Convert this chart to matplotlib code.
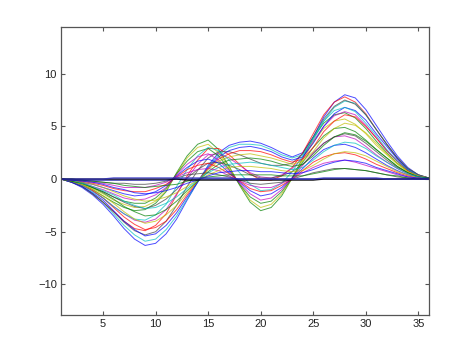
import numpy as np
import matplotlib
matplotlib.use("Agg")
import matplotlib.pyplot as plt

# sample index 1..36 on the x axis
x = np.arange(1, 37)

# curves (deep dip at 9 / hump at 18.5 family)
p1 = [0.0,-0.3,-0.8,-1.5,-2.4,-3.5,-4.7,-5.7,-6.3,-6.1,-5.2,-3.8,-2.0,-0.3,1.3,2.5,3.2,3.5,3.6,3.4,3.0,2.5,2.1,2.5,4.0,5.9,7.3,8.0,7.7,6.6,5.1,3.6,2.2,1.1,0.4,0.1]
p2 = [0.0,-0.3,-0.7,-1.4,-2.2,-3.3,-4.4,-5.3,-5.9,-5.7,-4.8,-3.5,-1.9,-0.3,1.2,2.3,3.0,3.3,3.3,3.2,2.8,2.3,2.0,2.3,3.7,5.5,6.8,7.4,7.2,6.1,4.7,3.3,2.0,1.0,0.4,0.1]
p3 = [0.0,-0.3,-0.7,-1.3,-2.0,-3.0,-4.0,-4.8,-5.4,-5.2,-4.4,-3.2,-1.7,-0.3,1.1,2.1,2.7,3.0,3.1,2.9,2.6,2.1,1.8,2.1,3.4,5.0,6.2,6.8,6.5,5.6,4.3,3.1,1.9,0.9,0.3,0.1]
p4 = [0.0,-0.2,-0.6,-1.1,-1.8,-2.7,-3.6,-4.3,-4.8,-4.6,-4.0,-2.9,-1.5,-0.2,1.0,1.9,2.4,2.7,2.7,2.6,2.3,1.9,1.6,1.9,3.0,4.5,5.5,6.1,5.9,5.0,3.9,2.7,1.7,0.8,0.3,0.1]
p5 = [0.0,-0.2,-0.5,-1.0,-1.6,-2.3,-3.1,-3.8,-4.2,-4.0,-3.4,-2.5,-1.3,-0.2,0.9,1.7,2.1,2.3,2.4,2.2,2.0,1.7,1.4,1.7,2.6,3.9,4.8,5.3,5.1,4.4,3.4,2.4,1.5,0.7,0.3,0.1]
p6 = [0.0,-0.2,-0.4,-0.8,-1.3,-1.9,-2.6,-3.1,-3.5,-3.4,-2.9,-2.1,-1.1,-0.2,0.7,1.4,1.8,1.9,2.0,1.9,1.7,1.4,1.2,1.4,2.2,3.2,4.0,4.4,4.2,3.6,2.8,2.0,1.2,0.6,0.2,0.1]
p7 = [0.0,-0.1,-0.4,-0.7,-1.1,-1.5,-2.1,-2.5,-2.8,-2.7,-2.3,-1.7,-0.9,-0.1,0.6,1.1,1.4,1.5,1.6,1.5,1.3,1.1,0.9,1.1,1.8,2.6,3.2,3.5,3.4,2.9,2.2,1.6,1.0,0.5,0.2,0.0]
p8 = [0.0,-0.1,-0.3,-0.5,-0.8,-1.2,-1.6,-1.9,-2.1,-2.0,-1.7,-1.3,-0.7,-0.1,0.4,0.8,1.1,1.2,1.2,1.1,1.0,0.8,0.7,0.8,1.3,1.9,2.4,2.6,2.5,2.2,1.7,1.2,0.7,0.4,0.1,0.0]
p9 = [0.0,-0.1,-0.2,-0.3,-0.5,-0.8,-1.0,-1.3,-1.4,-1.3,-1.1,-0.8,-0.4,-0.1,0.3,0.6,0.7,0.8,0.8,0.7,0.7,0.6,0.5,0.6,0.9,1.3,1.6,1.8,1.7,1.5,1.1,0.8,0.5,0.2,0.1,0.0]
p10 = [0.0,0.0,-0.1,-0.2,-0.3,-0.4,-0.6,-0.7,-0.8,-0.7,-0.6,-0.5,-0.2,0.0,0.2,0.3,0.4,0.4,0.4,0.4,0.4,0.3,0.3,0.3,0.5,0.7,0.9,1.0,0.9,0.8,0.6,0.4,0.3,0.1,0.0,0.0]

# curves with the hump at 15 and the dip at 20
q1 = [0.0,-0.2,-0.5,-1.0,-1.6,-2.2,-2.7,-3.0,-2.9,-2.3,-1.2,0.6,2.2,3.3,3.7,2.8,1.2,-0.6,-2.2,-3.0,-2.7,-1.6,0.1,2.0,3.9,5.3,6.1,6.3,5.8,4.8,3.6,2.5,1.5,0.8,0.3,0.1]
q2 = [0.0,-0.2,-0.5,-0.9,-1.4,-2.0,-2.4,-2.7,-2.6,-2.1,-1.1,0.5,2.0,3.0,3.3,2.5,1.1,-0.5,-2.0,-2.7,-2.4,-1.4,0.1,1.8,3.5,4.8,5.5,5.7,5.2,4.3,3.2,2.3,1.4,0.7,0.3,0.1]
q3 = [0.0,-0.2,-0.4,-0.8,-1.2,-1.7,-2.1,-2.3,-2.3,-1.8,-0.9,0.5,1.7,2.6,2.9,2.2,0.9,-0.5,-1.7,-2.3,-2.1,-1.2,0.1,1.6,3.0,4.1,4.8,4.9,4.5,3.7,2.8,2.0,1.2,0.6,0.2,0.1]
q4 = [0.0,-0.1,-0.3,-0.7,-1.0,-1.4,-1.8,-2.0,-1.9,-1.5,-0.8,0.4,1.4,2.1,2.4,1.8,0.8,-0.4,-1.4,-2.0,-1.8,-1.0,0.1,1.3,2.5,3.4,4.0,4.1,3.8,3.1,2.3,1.6,1.0,0.5,0.2,0.1]
q5 = [0.0,-0.1,-0.3,-0.5,-0.8,-1.1,-1.4,-1.6,-1.5,-1.2,-0.6,0.3,1.1,1.7,1.9,1.5,0.6,-0.3,-1.1,-1.6,-1.4,-0.8,0.1,1.0,2.0,2.8,3.2,3.3,3.0,2.5,1.9,1.3,0.8,0.4,0.2,0.1]
q6 = [0.0,-0.1,-0.2,-0.4,-0.6,-0.9,-1.1,-1.2,-1.2,-0.9,-0.5,0.2,0.9,1.3,1.5,1.1,0.5,-0.2,-0.9,-1.2,-1.1,-0.6,0.0,0.8,1.6,2.1,2.4,2.5,2.3,1.9,1.4,1.0,0.6,0.3,0.1,0.0]
q7 = [0.0,-0.1,-0.1,-0.3,-0.4,-0.6,-0.8,-0.8,-0.8,-0.6,-0.3,0.2,0.6,0.9,1.0,0.8,0.3,-0.2,-0.6,-0.8,-0.8,-0.4,0.0,0.6,1.1,1.5,1.7,1.8,1.6,1.3,1.0,0.7,0.4,0.2,0.1,0.0]
q8 = [0.0,0.0,-0.1,-0.2,-0.3,-0.4,-0.4,-0.5,-0.5,-0.4,-0.2,0.1,0.4,0.5,0.6,0.4,0.2,-0.1,-0.4,-0.5,-0.4,-0.3,0.0,0.3,0.6,0.8,1.0,1.0,0.9,0.8,0.6,0.4,0.2,0.1,0.0,0.0]

# in-between curves (hump near 16-17)
m1 = [0.0,-0.2,-0.6,-1.1,-1.8,-2.6,-3.3,-3.9,-4.1,-3.8,-2.9,-1.4,0.1,1.4,2.3,2.4,2.0,1.3,0.6,0.2,0.1,0.4,1.0,2.0,3.6,5.0,6.0,6.4,6.1,5.1,3.9,2.7,1.7,0.9,0.3,0.1]
m2 = [0.0,-0.2,-0.4,-0.8,-1.2,-1.7,-2.2,-2.6,-2.8,-2.5,-1.9,-1.0,0.1,0.9,1.5,1.6,1.3,0.9,0.4,0.1,0.1,0.3,0.7,1.4,2.4,3.4,4.0,4.3,4.1,3.4,2.6,1.8,1.1,0.6,0.2,0.1]
m3 = [0.0,-0.3,-0.7,-1.4,-2.2,-3.1,-4.0,-4.7,-4.9,-4.4,-3.3,-1.5,0.3,1.8,2.9,2.9,2.3,1.4,0.5,-0.1,-0.1,0.3,1.1,2.5,4.3,6.1,7.3,7.8,7.3,6.2,4.7,3.3,2.0,1.0,0.4,0.1]
m4 = [0.0,-0.3,-0.7,-1.4,-2.2,-3.1,-4.1,-4.9,-5.3,-5.0,-4.0,-2.5,-0.7,0.8,2.0,2.6,2.6,2.3,1.9,1.5,1.3,1.3,1.5,2.4,4.0,5.7,6.9,7.5,7.1,6.1,4.7,3.3,2.0,1.0,0.4,0.1]
m5 = [0.0,-0.2,-0.6,-1.2,-1.8,-2.6,-3.3,-3.8,-3.9,-3.4,-2.4,-0.7,0.9,2.2,3.0,2.7,1.8,0.6,-0.5,-1.1,-1.0,-0.4,0.7,2.2,3.9,5.5,6.5,6.8,6.4,5.3,4.1,2.8,1.7,0.9,0.3,0.1]

# nearly flat lines along zero
z1 = [0.0,-0.1,-0.1,-0.1,-0.1,-0.1,-0.1,-0.1,-0.1,-0.1,-0.1,0.0,0.0,0.0,0.0,0.0,0.0,0.0,0.0,0.0,0.0,0.0,0.0,0.0,0.0,0.0,0.0,0.0,0.0,0.0,0.0,0.0,0.0,0.0,0.0,0.0]
z2 = [0.0,0.0,0.0,0.0,0.0,0.0,0.0,0.0,0.0,0.0,0.0,0.0,-0.1,-0.1,-0.1,-0.1,-0.1,-0.1,-0.1,-0.1,-0.1,-0.1,-0.1,-0.1,-0.1,0.0,0.0,0.0,0.0,0.0,0.0,0.0,0.0,0.0,0.0,0.0]
z3 = [0.0,0.0,0.0,0.0,0.0,0.1,0.1,0.1,0.1,0.1,0.1,0.1,0.1,0.1,0.1,0.1,0.1,0.0,0.0,0.0,0.0,0.0,0.0,0.0,0.0,0.1,0.1,0.1,0.1,0.1,0.1,0.0,0.0,0.0,0.0,0.0]

curves = [p1, q1, m3, p2, m1, q2, m4, p3, q3, p4, m5, q4, p5, m2, q5,
          p6, q6, p7, q7, p8, q8, p9, p10]
flat = [z1, z2, z3]

# old matlab colour order
colors = [(0, 0, 1), (0, 0.5, 0), (1, 0, 0), (0, 0.75, 0.75),
          (0.75, 0, 0.75), (0.75, 0.75, 0), (0.25, 0.25, 0.25)]

plt.rcParams['font.family'] = ['Liberation Sans', 'DejaVu Sans']

fig = plt.figure(figsize=(4.74, 3.55), dpi=100)
ax = fig.add_axes([0.1287, 0.1127, 0.776, 0.8104])

for i, y in enumerate(curves):
    ax.plot(x, y, color=colors[i % len(colors)], lw=0.7, alpha=0.7)
for y, c in zip(flat, ['#1a1aa0', 'black', '#3030c0']):
    ax.plot(x, y, color=c, lw=1.0, alpha=0.85)

ax.set_xlim(1, 36)
ax.set_ylim(-12.9, 14.4)
ax.set_xticks([5, 10, 15, 20, 25, 30, 35])
ax.set_yticks([-10, -5, 0, 5, 10])
ax.tick_params(direction='in', top=True, right=True, length=3, width=0.8,
               color='#555555', labelsize=8, labelcolor='#222222', pad=3)
for s in ax.spines.values():
    s.set_color('#555555')
    s.set_linewidth(0.9)

fig.savefig('out.png', dpi=100)
